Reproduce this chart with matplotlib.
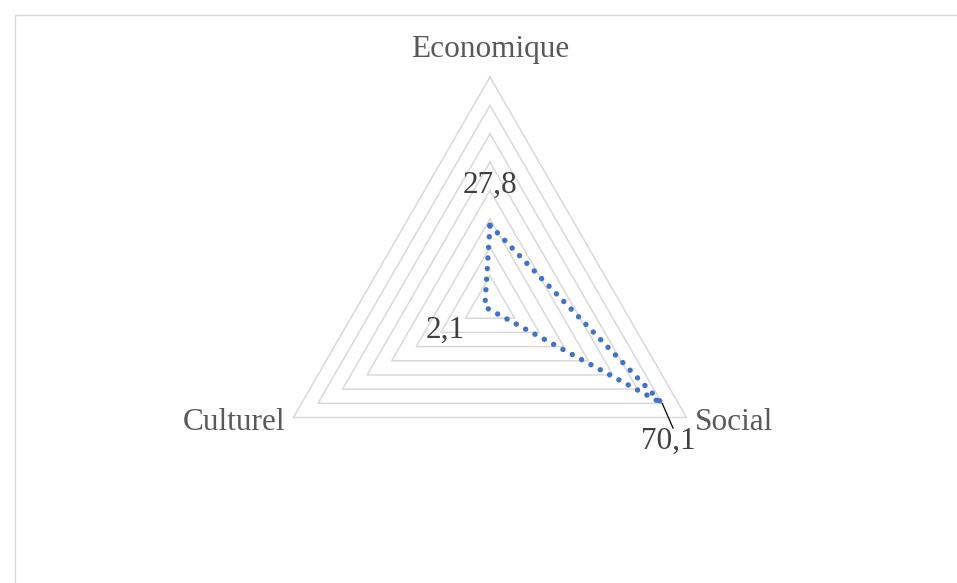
import numpy as np
import matplotlib.pyplot as plt
from matplotlib.patches import Rectangle

categories = ["Economique", "Social", "Culturel"]
values = [27.8, 70.1, 2.1]
value_labels = ["27,8", "70,1", "2,1"]
rings = [10, 20, 30, 40, 50, 60, 70, 80]

W, H = 957, 583
cx, cy = 490, 304          # centre of the radar, pixels from top-left
r_px = 227                 # pixel radius of the outer ring
rmax = rings[-1]
k = rmax / r_px            # data units per pixel

fig = plt.figure(figsize=(W / 100, H / 100), dpi=100)
ax = fig.add_axes([0, 0, 1, 1])
ax.set_xlim(-cx * k, (W - cx) * k)
ax.set_ylim(-(H - cy) * k, cy * k)
ax.axis("off")

# outer frame of the chart area (runs off the right and bottom edges)
fig.patches.append(Rectangle((15 / W, -0.1), 2, (H - 15) / H + 0.1, transform=fig.transFigure,
                             fill=False, edgecolor="#D9D9D9", linewidth=1.0))

angles = np.deg2rad([0, 120, 240])


def to_xy(r):
    r = np.asarray(r, dtype=float)
    return r * np.sin(angles), r * np.cos(angles)


for r in rings:
    x, y = to_xy([r] * 3)
    ax.plot(np.append(x, x[0]), np.append(y, y[0]), color="#D9D9D9", lw=1.1, zorder=1)

x, y = to_xy(values)
ax.plot(np.append(x, x[0]), np.append(y, y[0]), color="#4472C4", lw=3.9,
        linestyle=(0, (0.01, 1.95)), dash_capstyle="round", zorder=3)

serif = ["Liberation Serif", "DejaVu Serif"]
fs = 22.5

# category labels
ax.text(0, (cy - 50) * k, categories[0], ha="center", va="center",
        fontsize=fs, color="#595959", family=serif)
ax.text((695 - cx) * k, (cy - 422) * k, categories[1], ha="left", va="center",
        fontsize=fs, color="#595959", family=serif)
ax.text((285 - cx) * k, (cy - 422) * k, categories[2], ha="right", va="center",
        fontsize=fs, color="#595959", family=serif)

# value labels
ax.text(0, (cy - 185) * k, value_labels[0], ha="center", va="center",
        fontsize=fs, color="#404040", family=serif, zorder=4)
ax.text((668 - cx) * k, (cy - 441) * k, value_labels[1], ha="center", va="center",
        fontsize=fs, color="#404040", family=serif, zorder=4)
ax.plot([x[1], (673 - cx) * k], [y[1], (cy - 428) * k], color="black", lw=0.9, zorder=4)
ax.text((445 - cx) * k, (cy - 330) * k, value_labels[2], ha="center", va="center",
        fontsize=fs, color="#404040", family=serif, zorder=4)

fig.savefig("out.png", dpi=100, facecolor="white")
